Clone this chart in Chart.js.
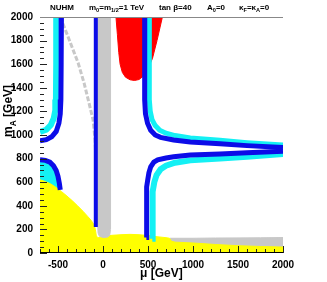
<!DOCTYPE html>
<html>
<head>
<meta charset="utf-8">
<script src="https://cdn.jsdelivr.net/npm/chart.js@4.4.0/dist/chart.umd.min.js"></script>
<style>
  html, body { margin: 0; padding: 0; background: #fff; }
  canvas { display: block; }
</style>
</head>
<body>
<canvas id="nuhm" width="327" height="282"></canvas>
<script>
const muLabels = [-500, 0, 500, 1000, 1500, 2000];
const mALabels = [0, 200, 400, 600, 800, 1000, 1200, 1400, 1600, 1800, 2000];

// region boundaries, [mu, mA] in GeV
const yellowEdge = [[-700, 620], [-640, 605], [-580, 585], [-520, 555], [-460, 520], [-400, 482],
  [-340, 442], [-280, 398], [-220, 352], [-170, 310], [-130, 275], [-100, 240], [-85, 200],
  [-75, 150], [-60, 128], [0, 140], [100, 150], [200, 155], [300, 158], [400, 155], [500, 148],
  [600, 138], [700, 130], [740, 125], [760, 100], [800, 92], [1000, 85], [1250, 72],
  [1500, 62], [1750, 55], [2000, 50]];
const grayBand = [[745, 125], [1000, 125], [1250, 127], [1500, 128], [1750, 129], [2000, 131]];
const grayColumn = [[-58, 2000], [-60, 250], [-55, 170], [-40, 142], [0, 132], [50, 135],
  [75, 150], [84, 200], [84, 2000]];
const grayDiagonal = [[-475, 2000], [-387, 1830], [-276, 1610], [-210, 1440], [-155, 1270],
  [-110, 1127], [-88, 958], [-80, 800]];
const redRegion = [[144, 2000], [160, 1850], [175, 1700], [190, 1600], [215, 1530], [250, 1490],
  [300, 1468], [350, 1462], [400, 1470], [450, 1500], [500, 1560], [550, 1650], [600, 1800],
  [660, 2000]];
const blueThin = [[-80, 2000], [-80, 220]];

const blueUpperLeft = [[-462, 2000], [-465, 1600], [-468, 1300], [-475, 1180], [-490, 1100],
  [-520, 1030], [-570, 985], [-630, 960], [-700, 950]];
const cyanUpperLeft = [[-517, 2000], [-520, 1600], [-523, 1300], [-530, 1210], [-548, 1140],
  [-580, 1085], [-630, 1045], [-700, 1025]];
const blueLowerLeft = [[-700, 790], [-640, 785], [-590, 770], [-550, 740], [-520, 700],
  [-500, 650], [-485, 590], [-475, 535]];
const cyanLowerLeft = [[-700, 780], [-640, 775], [-590, 760], [-555, 730], [-525, 690],
  [-505, 640], [-490, 580], [-480, 530]];

const blueUpperRight = [[464, 2000], [462, 1600], [464, 1300], [472, 1180], [495, 1100],
  [530, 1040], [580, 1000], [640, 980], [785, 958], [970, 940], [1300, 925], [1600, 910],
  [2000, 893]];
const cyanUpperRight = [[515, 2000], [513, 1600], [516, 1300], [525, 1200], [545, 1130],
  [580, 1080], [630, 1040], [700, 1015], [800, 995], [970, 975], [1300, 955], [1600, 935],
  [2000, 915]];
const blueLowerRight = [[482, 132], [482, 400], [488, 560], [497, 620], [510, 680], [530, 730],
  [565, 770], [608, 790], [700, 805], [785, 815], [970, 830], [1300, 840], [1600, 850],
  [2000, 862]];
const cyanLowerRight = [[548, 120], [548, 400], [555, 520], [570, 600], [595, 660], [640, 710],
  [700, 740], [800, 765], [970, 785], [1300, 800], [1600, 815], [2000, 840]];

const YELLOW = '#ffff00', GRAY = '#c8c8c8', RED = '#ff0000', BLUE = '#0c0ce8', CYAN = '#14f0f4';
const FONT = '"Liberation Sans", Arial, sans-serif';

const pts = a => a.map(([x, y]) => ({x, y}));

function area(data, color, fill, order) {
  return { data: pts(data), backgroundColor: color, borderColor: color, borderWidth: 1,
    fill: fill, pointRadius: 0, tension: 0, order: order, clip: 0 };
}
function band(data, color, width, order, dash) {
  return { data: pts(data), borderColor: color, borderWidth: width, borderDash: dash || [],
    fill: false, pointRadius: 0, tension: 0, order: order, clip: 0 };
}

function rich(ctx, parts, x, y, size) {
  let cx = x;
  for (const [t, sub] of parts) {
    const s = sub ? size * 0.7 : size;
    ctx.font = 'bold ' + s + 'px ' + FONT;
    ctx.fillText(t, cx, sub ? y + size * 0.3 : y);
    cx += ctx.measureText(t).width;
  }
}

const frame = {
  id: 'frame',
  afterDatasetsDraw(chart) {
    const {ctx, chartArea: a, scales: {x, y}} = chart;
    ctx.save();
    ctx.strokeStyle = '#222';
    ctx.lineWidth = 1;
    ctx.beginPath();
    for (let v = -700; v <= 2000; v += 100) {
      const px = Math.round(x.getPixelForValue(v)) + 0.5;
      const len = v % 500 === 0 ? 7 : 4;
      ctx.moveTo(px, a.bottom);
      ctx.lineTo(px, a.bottom - len);
    }
    for (let v = 0; v <= 2000; v += 50) {
      const py = Math.round(y.getPixelForValue(v)) + 0.5;
      const len = v % 200 === 0 ? 7 : 4;
      ctx.moveTo(a.left, py);
      ctx.lineTo(a.left + len, py);
    }
    ctx.stroke();
    ctx.beginPath();
    ctx.strokeStyle = '#000';
    ctx.moveTo(a.left, a.bottom - 0.5);
    ctx.lineTo(a.right, a.bottom - 0.5);
    ctx.stroke();
    ctx.beginPath();
    ctx.strokeStyle = '#888';
    ctx.moveTo(a.left, a.top + 0.5);
    ctx.lineTo(a.right, a.top + 0.5);
    ctx.stroke();
    ctx.restore();
  },
  afterDraw(chart) {
    const ctx = chart.ctx;
    ctx.save();
    ctx.fillStyle = '#000';
    ctx.textBaseline = 'alphabetic';
    rich(ctx, [['NUHM']], 50, 10, 8);
    rich(ctx, [['m'], ['0', 1], ['=m'], ['1/2', 1], ['=1 TeV']], 89, 10, 8);
    rich(ctx, [['tan \u03b2=40']], 159, 10, 8);
    rich(ctx, [['A'], ['0', 1], ['=0']], 207, 10, 8);
    rich(ctx, [['\u03ba'], ['F', 1], ['=\u03ba'], ['A', 1], ['=0']], 239, 10, 8);
    rich(ctx, [['\u03bc [GeV]']], 140, 277, 12);
    ctx.translate(12, 137);
    ctx.rotate(-Math.PI / 2);
    rich(ctx, [['m'], ['A', 1], [' [GeV]']], 0, 0, 12);
    ctx.restore();
  }
};

new Chart(document.getElementById('nuhm'), {
  type: 'line',
  data: {
    datasets: [
      area(grayBand, GRAY, 'origin', 20),
      area(cyanLowerLeft, CYAN, 'origin', 19),
      area(yellowEdge, YELLOW, 'origin', 18),
      area(grayColumn, GRAY, 'end', 17),
      area(redRegion, RED, 'end', 16),
      band(grayDiagonal, GRAY, 3, 15, [5, 2]),
      band(blueThin, BLUE, 4, 14),
      band(cyanUpperLeft, CYAN, 6, 13),
      band(cyanUpperRight, CYAN, 5, 12),
      band(cyanLowerRight, CYAN, 6, 11),
      band(blueUpperLeft, BLUE, 5, 10),
      band(blueLowerLeft, BLUE, 5, 9),
      band(blueUpperRight, BLUE, 5, 8),
      band(blueLowerRight, BLUE, 5, 7)
    ]
  },
  options: {
    responsive: false,
    devicePixelRatio: 1,
    animation: false,
    layout: { padding: { left: 0, top: 17, right: 44, bottom: 0 } },
    plugins: { legend: { display: false }, tooltip: { enabled: false } },
    scales: {
      x: {
        type: 'linear', min: -700, max: 2000,
        grid: { display: false, drawTicks: false }, border: { display: false },
        afterBuildTicks: s => { s.ticks = muLabels.map(v => ({ value: v })); },
        afterFit: s => { s.height = 29; },
        ticks: { color: '#000', padding: 6, maxRotation: 0, callback: v => String(v),
          font: { family: FONT, size: 10, weight: 'bold' } }
      },
      y: {
        type: 'linear', min: 0, max: 2000,
        grid: { display: false, drawTicks: false }, border: { display: false },
        afterBuildTicks: s => { s.ticks = mALabels.map(v => ({ value: v })); },
        afterFit: s => { s.width = 40; },
        ticks: { color: '#000', padding: 7, callback: v => String(v),
          font: { family: FONT, size: 10, weight: 'bold' } }
      }
    }
  },
  plugins: [frame]
});
</script>
</body>
</html>
